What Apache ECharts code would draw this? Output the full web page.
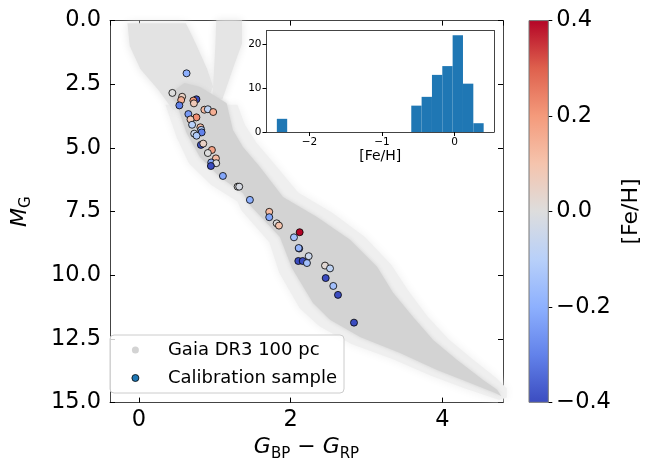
<!DOCTYPE html>
<html><head><meta charset="utf-8">
<script src="https://cdn.jsdelivr.net/npm/echarts@6/dist/echarts.min.js"></script>
<style>html,body{margin:0;padding:0;background:#fff}#c{width:657px;height:458px}</style>
</head><body><div id="c"></div>
<script>
// ---------- data ----------
// Calibration sample: BP-RP colour, absolute G magnitude, [Fe/H]
const calibBpRp = [0.629,0.442,0.571,0.558,0.534,0.759,0.719,0.726,0.864,0.910,0.980,0.653,0.759,0.681,0.702,0.811,0.822,0.828,0.730,0.761,0.818,0.849,0.963,0.910,1.016,0.954,1.020,0.950,1.108,1.302,1.323,1.464,1.719,1.719,1.817,1.847,2.120,2.045,2.113,2.107,2.239,2.102,2.160,2.216,2.454,2.520,2.463,2.563,2.625,2.836];
const calibMG   = [2.07,2.84,2.99,3.12,3.33,3.09,3.14,3.25,3.50,3.48,3.59,3.67,3.80,3.88,4.09,4.19,4.29,4.39,4.44,4.52,4.88,4.83,5.08,5.20,5.41,5.57,5.60,5.71,6.10,6.52,6.52,7.04,7.51,7.72,7.96,8.05,8.31,8.51,8.95,8.93,9.25,9.44,9.44,9.52,9.62,9.73,10.11,10.42,10.77,11.86];
const calibFeH  = [-0.20,0.00,0.05,0.15,-0.30,-0.45,0.20,0.08,0.12,-0.08,0.15,-0.25,0.22,0.08,-0.10,0.12,-0.12,-0.30,-0.05,-0.12,-0.38,0.05,0.18,0.00,0.12,-0.22,0.00,-0.42,-0.22,0.00,-0.02,-0.20,0.12,-0.22,0.00,0.10,0.40,-0.15,-0.40,-0.18,-0.05,-2.40,-0.40,-0.15,0.02,-0.08,-2.40,-0.15,-0.45,-2.45];

// Inset histogram of [Fe/H] (20 bins from -2.45 to 0.40; only non-empty bins listed)
const histBinWidth = 0.1425;
const histLeftEdges = [-2.45,-0.5975,-0.455,-0.3125,-0.17,-0.0275,0.115,0.2575];
const histCounts    = [3,6,8,13,15,22,11,2];

// Gaia DR3 100 pc cloud, traced outlines (BP-RP, M_G)
const gaiaHalo = [[0.35,3.3],[0.5,4.6],[0.66,5.6],[0.95,6.45],[1.3,7.1],[1.35,7.45],[1.72,8.7],[1.85,9.9],[2.12,11.3],[2.38,12.0],[2.8,12.7],[3.35,13.3],[3.85,13.95],[4.3,14.45],[4.75,14.9],[4.85,14.8],[4.85,14.45],[4.7,14.0],[4.4,13.3],[4.08,12.5],[3.8,11.6],[3.55,10.6],[3.33,9.6],[2.98,8.5],[2.55,7.55],[2.1,6.75],[1.78,5.6],[1.55,4.8],[1.4,4.1],[1.3,3.3]];
const gaiaUpperMS = [[-0.15,0.1],[0.62,0.1],[0.75,0.9],[0.9,1.9],[0.98,2.6],[0.85,3.4],[0.45,3.5],[0.25,2.7],[0.02,1.9],[-0.12,1.0]];
const gaiaGiants = [[1.02,0.0],[1.36,0.0],[1.36,0.9],[1.25,1.8],[1.17,2.5],[1.1,3.1],[0.97,3.1],[0.99,2.0],[1.01,0.9]];
const gaiaCore = [[0.40,2.9],[0.497,3.25],[0.629,4.41],[0.805,5.36],[1.069,6.14],[1.372,6.77],[1.464,7.24],[1.860,8.50],[2.018,9.71],[2.296,11.09],[2.520,11.75],[2.916,12.42],[3.443,13.05],[3.931,13.72],[4.367,14.23],[4.697,14.62],[4.78,14.75],[4.723,14.50],[4.538,14.11],[4.195,13.33],[3.879,12.54],[3.615,11.64],[3.351,10.69],[3.140,9.67],[2.784,8.61],[2.348,7.71],[1.900,6.93],[1.596,5.75],[1.372,4.96],[1.240,4.30],[1.157,3.25],[1.0,2.95],[0.8,2.6],[0.6,2.45]];

// axis ranges / ticks
const mainX = {min:-0.38, max:4.8, step:2};
const mainY = {min:0, max:15, step:2.5};
const insetX = {min:-2.5925, max:0.5425, step:1};
const insetY = {min:0, max:23.1, step:10};
const cbar = {min:-0.4, max:0.4, step:0.2};

// coolwarm colormap stops
const coolwarm = ['#3b4cc0','#6282ea','#8db0fe','#b8d0f9','#dddddd','#f5c4ad','#f49a7b','#de604d','#b40426'];

// ---------- chart ----------
const FONT = 'DejaVu Sans';
const SPINE = '#444';
const chart = echarts.init(document.getElementById('c'));
const minus = v => (v < 0 ? '\u2212' : '') + Math.abs(v);
const fmt1 = v => (v < 0 ? '\u2212' : '') + Math.abs(v).toFixed(1);

function polySeries(poly, fill, blur, name){
  return {
    type:'custom', name: name, xAxisIndex:0, yAxisIndex:0, silent:true, z:1,
    data: poly, encode:{x:0, y:1},
    renderItem: function(params, api){
      if (params.dataIndex !== 0) return null;
      return {type:'polygon', shape:{points: poly.map(p => api.coord(p))},
              style:{fill: fill, shadowBlur: blur, shadowColor: fill}};
    }
  };
}

const richName = {
  i:{fontFamily:FONT, fontStyle:'italic', fontSize:22, lineHeight:28, color:'#000'},
  m:{fontFamily:FONT, fontSize:22, lineHeight:28, color:'#000'},
  s:{fontFamily:FONT, fontSize:15, lineHeight:17, verticalAlign:'bottom', color:'#000'}
};

const mainTick = {show:true, inside:true, length:5, lineStyle:{color:'#000', width:1}};
const spine = {show:true, onZero:false, lineStyle:{color:SPINE, width:1}};

const option = {
  backgroundColor:'#fff',
  animation:false,
  textStyle:{fontFamily:FONT},
  grid:[
    {left:110, top:20.6, width:393, height:382, outerBoundsMode:'none'},
    {left:266.5, top:30.5, width:227.5, height:101.5, outerBoundsMode:'none', backgroundColor:'#fff', show:true, borderWidth:0, z:3},
    {left:529, top:20.6, width:19.3, height:381.7, outerBoundsMode:'none'}
  ],
  xAxis:[
    {gridIndex:0, type:'value', position:'bottom', min:mainX.min, max:mainX.max, splitNumber:3, minInterval:mainX.step, maxInterval:mainX.step,
     axisLine:spine, axisTick:mainTick, splitLine:{show:false},
     axisLabel:{fontSize:22.5, color:'#000', margin:6, showMinLabel:false, showMaxLabel:false, formatter: v => minus(v)},
     name:'{i|G}{s|BP}{m| \u2212 }{i|G}{s|RP}', nameLocation:'middle', nameGap:28, nameTextStyle:{rich:richName}},
    {gridIndex:0, type:'value', position:'top', min:mainX.min, max:mainX.max, splitNumber:3, minInterval:mainX.step, maxInterval:mainX.step,
     axisLine:spine, axisTick:mainTick, splitLine:{show:false}, axisLabel:{show:false}},
    {gridIndex:1, type:'value', position:'bottom', min:insetX.min, max:insetX.max, splitNumber:3, minInterval:insetX.step, maxInterval:insetX.step,
     axisLine:spine, axisTick:{show:true, inside:false, length:4, lineStyle:{color:'#000'}}, splitLine:{show:false},
     axisLabel:{fontSize:10.5, color:'#000', margin:5, showMinLabel:false, showMaxLabel:false, formatter: v => minus(v)},
     name:'[Fe/H]', nameLocation:'middle', nameGap:17, nameTextStyle:{fontSize:14, color:'#000', fontFamily:FONT}, z:4},
    {gridIndex:1, type:'value', position:'top', min:insetX.min, max:insetX.max, splitNumber:3, minInterval:insetX.step, maxInterval:insetX.step,
     axisLine:spine, axisTick:{show:false}, splitLine:{show:false}, axisLabel:{show:false}, z:4},
    {gridIndex:2, type:'value', min:0, max:1, show:false}
  ],
  yAxis:[
    {gridIndex:0, type:'value', position:'left', inverse:true, min:mainY.min, max:mainY.max, interval:mainY.step,
     axisLine:spine, axisTick:mainTick, splitLine:{show:false},
     axisLabel:{fontSize:22.5, color:'#000', margin:9, formatter: fmt1},
     name:'{i|M}{s|G}', nameLocation:'middle', nameGap:76, nameTextStyle:{rich:richName}},
    {gridIndex:0, type:'value', position:'right', inverse:true, min:mainY.min, max:mainY.max, interval:mainY.step,
     axisLine:spine, axisTick:mainTick, splitLine:{show:false}, axisLabel:{show:false}},
    {gridIndex:1, type:'value', position:'left', min:insetY.min, max:insetY.max, interval:insetY.step,
     axisLine:spine, axisTick:{show:true, inside:false, length:4, lineStyle:{color:'#000'}}, splitLine:{show:false},
     axisLabel:{fontSize:10.5, color:'#000', margin:5, showMaxLabel:false}, z:4},
    {gridIndex:1, type:'value', position:'right', min:insetY.min, max:insetY.max, interval:insetY.step,
     axisLine:spine, axisTick:{show:false}, splitLine:{show:false}, axisLabel:{show:false}, z:4},
    {gridIndex:2, type:'value', position:'right', min:cbar.min, max:cbar.max, interval:cbar.step,
     axisLine:{show:false, onZero:false}, axisTick:{show:true, inside:false, length:4, lineStyle:{color:'#000'}}, splitLine:{show:false},
     axisLabel:{fontSize:22.5, color:'#000', margin:8, formatter: fmt1},
     name:'[Fe/H]', nameLocation:'middle', nameGap:72, nameTextStyle:{fontSize:22, color:'#000', fontFamily:FONT}}
  ],
  visualMap:[{
    type:'continuous', show:false, min:cbar.min, max:cbar.max, dimension:2, seriesIndex:5,
    inRange:{color:coolwarm}, outOfRange:{color:[coolwarm[0]]}
  }],
  legend:{
    orient:'vertical', left:110, top:335, padding:[5,7,5,21.5], itemWidth:7, itemHeight:7, itemGap:8,
    backgroundColor:'rgba(255,255,255,0.8)', borderColor:'#cccccc', borderWidth:1, borderRadius:4,
    formatter:'{t|{name}}',
    textStyle:{fontSize:18, fontFamily:FONT, color:'#000', lineHeight:20,
      rich:{t:{fontSize:18, fontFamily:FONT, color:'#000', lineHeight:20, padding:[0,0,0,24]}}},
    data:[
      {name:'Gaia DR3 100 pc', icon:'circle', itemStyle:{color:'#d3d3d3', borderWidth:0}},
      {name:'Calibration sample', icon:'circle', itemStyle:{color:'#1f77b4', borderColor:'#000', borderWidth:0.8}}
    ]
  },
  series:[
    polySeries(gaiaHalo, '#efefef', 10, 'halo'),
    polySeries(gaiaUpperMS, '#e3e3e3', 10, 'ums'),
    polySeries(gaiaGiants, '#e5e5e5', 8, 'giants'),
    polySeries(gaiaCore, '#d3d3d3', 4, 'Gaia DR3 100 pc'),
    {type:'custom', xAxisIndex:0, yAxisIndex:0, data:[], renderItem:()=>null},
    {
      type:'scatter', name:'Calibration sample', xAxisIndex:0, yAxisIndex:0, z:5,
      symbolSize:7,
      itemStyle:{borderColor:'#000', borderWidth:0.8, opacity:1},
      data: calibBpRp.map((x,i) => [x, calibMG[i], calibFeH[i]])
    },
    {
      type:'custom', xAxisIndex:2, yAxisIndex:2, silent:true, z:5,
      data: histLeftEdges.map((l,i) => [l, l + histBinWidth, histCounts[i]]),
      encode:{x:[0,1], y:2},
      renderItem: function(params, api){
        const p0 = api.coord([api.value(0), 0]);
        const p1 = api.coord([api.value(1), api.value(2)]);
        return {type:'rect', shape:{x:p0[0], y:p1[1], width:p1[0]-p0[0], height:p0[1]-p1[1]}, style:{fill:'#1f77b4'}};
      }
    },
    {
      type:'custom', xAxisIndex:4, yAxisIndex:4, silent:true,
      data:[[0, cbar.min],[1, cbar.max]], encode:{x:0, y:1},
      renderItem: function(params, api){
        if (params.dataIndex !== 0) return null;
        const p0 = api.coord([0, cbar.min]);
        const p1 = api.coord([1, cbar.max]);
        const stops = coolwarm.map((c,i) => ({offset: i/(coolwarm.length-1), color:c}));
        return {type:'rect', shape:{x:p0[0], y:p1[1], width:p1[0]-p0[0], height:p0[1]-p1[1]},
                style:{fill: new echarts.graphic.LinearGradient(0,1,0,0, stops), stroke:'#777', lineWidth:1}};
      }
    }
  ]
};
chart.setOption(option);
</script>
</body></html>
